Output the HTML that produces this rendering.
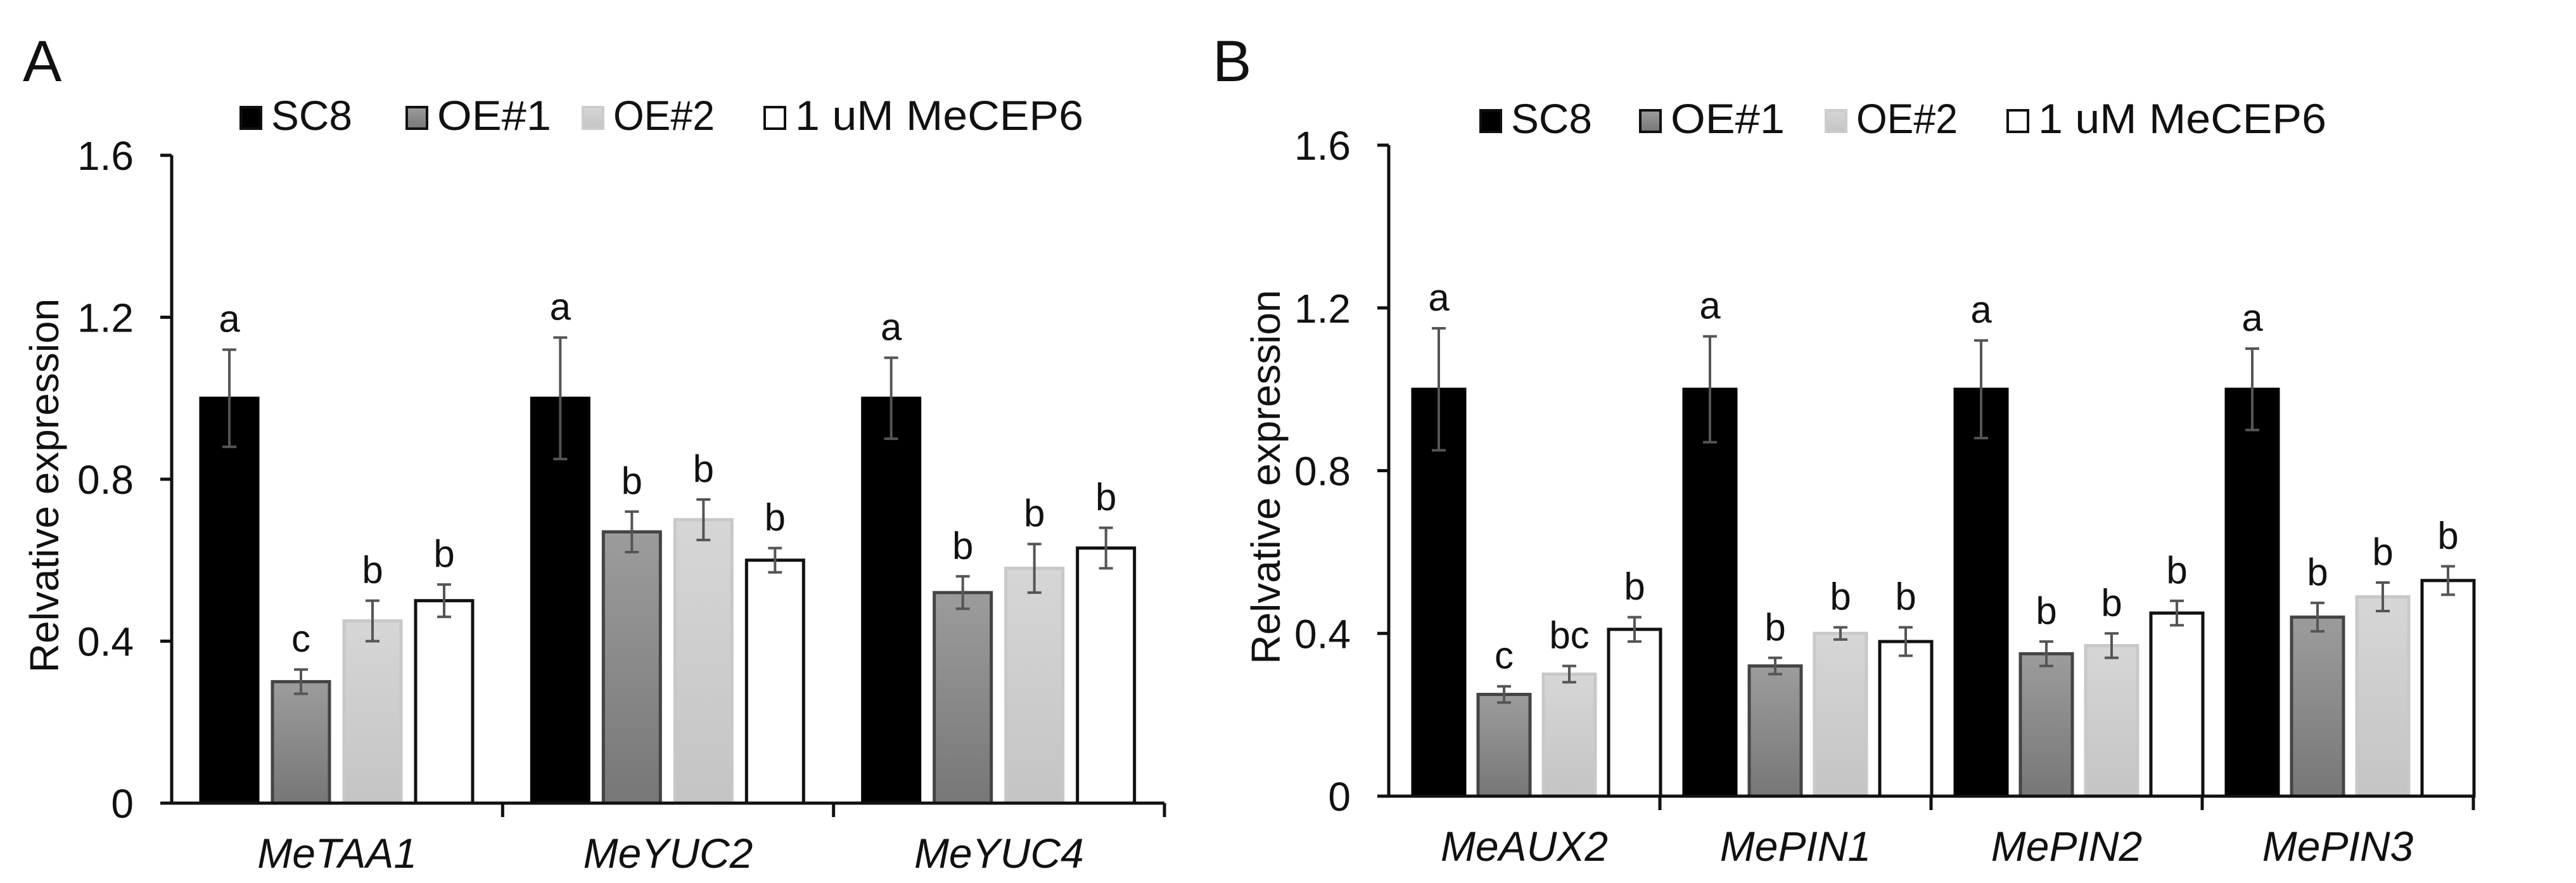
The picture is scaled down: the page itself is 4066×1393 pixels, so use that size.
<!DOCTYPE html>
<html><head><meta charset="utf-8"><style>
html,body{margin:0;padding:0;background:#fff;}
svg{display:block;font-family:"Liberation Sans",Arial,sans-serif;}
</style></head><body>
<svg id="chart" width="4066" height="1393" viewBox="0 0 4066 1393">
<defs>
<linearGradient id="g1" x1="0" y1="0" x2="0" y2="1"><stop offset="0" stop-color="#9c9c9c"/><stop offset="1" stop-color="#777"/></linearGradient>
<linearGradient id="g2" x1="0" y1="0" x2="0" y2="1"><stop offset="0" stop-color="#d6d6d6"/><stop offset="1" stop-color="#c4c4c4"/></linearGradient>
</defs>
</svg>
<script>
const seriesNames = ["SC8","OE#1","OE#2","1 uM MeCEP6"];
const yTicks = [0,0.4,0.8,1.2,1.6];
const yTickLabels = ["0","0.4","0.8","1.2","1.6"];
const catsA = ["MeTAA1","MeYUC2","MeYUC4"];
const valsA = [[1,0.30,0.45,0.50],[1,0.67,0.70,0.60],[1,0.52,0.58,0.63]];
const errsA = [[0.12,0.03,0.05,0.04],[0.15,0.05,0.05,0.03],[0.10,0.04,0.06,0.05]];
const letA = [["a","c","b","b"],["a","b","b","b"],["a","b","b","b"]];
const catsB = ["MeAUX2","MePIN1","MePIN2","MePIN3"];
const valsB = [[1,0.25,0.30,0.41],[1,0.32,0.40,0.38],[1,0.35,0.37,0.45],[1,0.44,0.49,0.53]];
const errsB = [[0.15,0.02,0.02,0.03],[0.13,0.02,0.015,0.035],[0.12,0.03,0.03,0.03],[0.10,0.035,0.035,0.035]];
const letB = [["a","c","bc","b"],["a","b","b","b"],["a","b","b","b"],["a","b","b","b"]];

const NS="http://www.w3.org/2000/svg";
const svg=document.getElementById('chart');
const fills=["#000","url(#g1)","url(#g2)","#fff"];
const strokes=["#000","#444","#c8c8c8","#111"];
const legLens=[128,180,160,455];
function mk(tag,attrs,parent){const e=document.createElementNS(NS,tag);for(const k in attrs)e.setAttribute(k,attrs[k]);(parent||svg).appendChild(e);return e;}

function panel(o){
  const g=mk('g',{});
  
  
  const y=v=>o.y0-(o.y0-o.y16)*v/1.6;
  const pl=mk('text',{x:o.letterX,y:128,'font-size':92,fill:'#111'},g);pl.textContent=o.letter;
  
  
  const yt=mk('text',{x:0,y:0,'font-size':64,'text-anchor':'middle',fill:'#111',transform:`translate(${o.titleX},${(o.y0+o.y16)/2+10}) rotate(-90)`},g);
  yt.textContent="Relvative expression";
  
  
  const ax=mk('line',{x1:o.ax,y1:o.y16,x2:o.ax,y2:o.y0,stroke:'#111','stroke-width':5},g);
  
  
  yTicks.forEach((t,i)=>{
    mk('line',{x1:o.ax-18,y1:y(t),x2:o.ax,y2:y(t),stroke:'#111','stroke-width':5},g);
    const tl=mk('text',{x:o.ax-60,y:y(t)+23,'font-size':64,'text-anchor':'end',fill:'#111'},g);
    tl.textContent=yTickLabels[i];
    
    
  });
  const n=o.cats.length, gw=(o.axEnd-o.ax)/n;
  o.cats.forEach((c,ci)=>{
    const gx=o.ax+ci*gw;
    mk('line',{x1:gx+gw,y1:o.y0,x2:gx+gw,y2:o.y0+22,stroke:'#111','stroke-width':5},g);
    const cl=mk('text',{x:gx+gw/2,y:o.y0+102,'font-size':66,'font-style':'italic','text-anchor':'middle',fill:'#111'},g);
    cl.textContent=c;
    
    
    o.vals[ci].forEach((v,si)=>{
      const bx=gx+o.off+si*o.pitch;
      const r=mk('rect',{x:bx,y:y(v),width:o.bw,height:o.y0-y(v),fill:fills[si],stroke:strokes[si],'stroke-width':5},g);
      
      
      const cx=bx+o.bw/2,e=o.errs[ci][si];
      mk('line',{x1:cx,y1:y(v+e),x2:cx,y2:y(v-e),stroke:'#555','stroke-width':4},g);
      mk('line',{x1:cx-11,y1:y(v+e),x2:cx+11,y2:y(v+e),stroke:'#555','stroke-width':4},g);
      mk('line',{x1:cx-11,y1:y(v-e),x2:cx+11,y2:y(v-e),stroke:'#555','stroke-width':4},g);
      const lt=mk('text',{x:cx,y:y(v+e)-28,'font-size':60,'text-anchor':'middle',fill:'#111'},g);
      lt.textContent=o.lets[ci][si];
      
      
    });
  });
  const xa=mk('line',{x1:o.ax,y1:o.y0,x2:o.axEnd,y2:o.y0,stroke:'#111','stroke-width':5},g);
  
  
  seriesNames.forEach((s,i)=>{
    const lx=o.legX[i];
    const sw=mk('rect',{x:lx,y:o.legY-36,width:32,height:34,fill:fills[i],stroke:i==2?'#ccc':'#111','stroke-width':4},g);
    
    
    const t=mk('text',{x:lx+48,y:o.legY,'font-size':66,fill:'#111',textLength:legLens[i],lengthAdjust:'spacingAndGlyphs'},g);
    t.textContent=s;
    
    
  });
}
panel({name:'panel-a',letter:'A',letterX:36,titleX:92,ax:271,axEnd:1838,y0:1267,y16:245,cats:catsA,vals:valsA,errs:errsA,lets:letA,off:46,pitch:113,bw:90,legX:[380,642,920,1207],legY:205});
panel({name:'panel-b',letter:'B',letterX:1914,titleX:2020,ax:2192,axEnd:3904,y0:1256,y16:229,cats:catsB,vals:valsB,errs:errsB,lets:letB,off:38,pitch:103,bw:82,legX:[2337,2589,2882,3169],legY:210});
</script>
</body></html>
